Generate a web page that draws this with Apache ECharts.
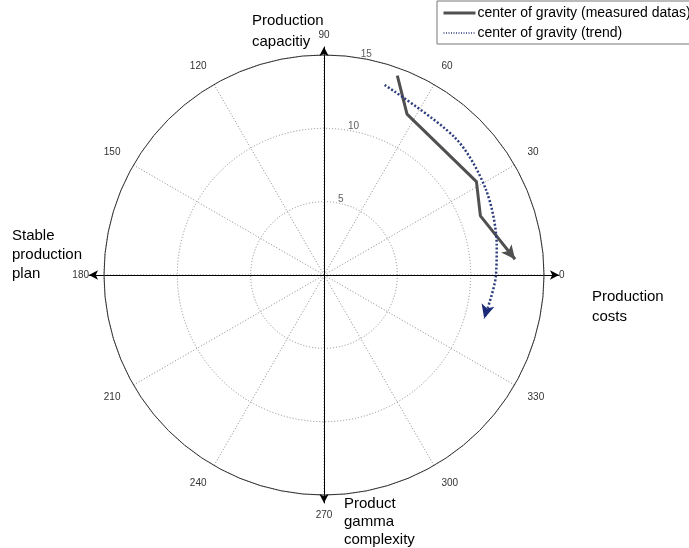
<!DOCTYPE html>
<html>
<head>
<meta charset="utf-8">
<script src="https://cdn.jsdelivr.net/npm/echarts@6/dist/echarts.min.js"></script>
<style>
html,body{margin:0;padding:0;background:#fff;}
#chart{width:689px;height:548px;}
</style>
</head>
<body>
<div id="chart"></div>
<script>
// ---- data ----
const ringTicks = [5, 10, 15];
const angleMin = 0, angleMax = 360, angleStep = 30;
const measuredR = [14.48, 12.34, 12.19, 11.40, 13.07];
const measuredTheta = [69.8, 62.7, 31.5, 20.7, 4.7];
const trendR = [13.6, 12.94, 12.48, 11.94, 11.71, 11.32];
const trendTheta = [72.3, 46.2, 27.7, 9.5, 359.3, 344.8];
const seriesNames = ['center of gravity (measured datas)', 'center of gravity (trend)'];
const axisDirections = [0, 90, 180, 270];

const FONT = '"Liberation Sans", Arial, sans-serif';
const CENTER = [324, 275];
const R = 220;

function arrowRotate(rs, ts) {
  const n = rs.length;
  const a1 = ts[n - 2] * Math.PI / 180, a2 = ts[n - 1] * Math.PI / 180;
  const x1 = rs[n - 2] * Math.cos(a1), y1 = rs[n - 2] * Math.sin(a1);
  const x2 = rs[n - 1] * Math.cos(a2), y2 = rs[n - 1] * Math.sin(a2);
  const phi = Math.atan2(y2 - y1, x2 - x1) * 180 / Math.PI;
  return phi - 90;
}
function buildData(rs, ts, color, size) {
  const rot = arrowRotate(rs, ts);
  return rs.map((r, i) => {
    if (i === rs.length - 1) {
      return { value: [r, ts[i]], symbol: 'arrow', symbolSize: size, symbolRotate: rot,
               itemStyle: { color: color } };
    }
    return [r, ts[i]];
  });
}

const polar = [{ center: CENTER, radius: R }];
const angleAxis = [{
  polarIndex: 0, type: 'value', min: angleMin, max: angleMax, interval: angleStep,
  startAngle: 0, clockwise: false,
  axisLine: { show: true, lineStyle: { color: '#333', width: 1 } },
  axisTick: { show: false },
  axisLabel: { show: true, margin: 15, color: '#333', fontSize: 10, fontFamily: FONT,
    formatter: v => (v === angleMax ? '' : String(v)) },
  splitLine: { show: true, lineStyle: { color: '#8a8a8a', width: 1, type: [1, 2] } }
}];
const radiusAxis = [{
  polarIndex: 0, type: 'value', min: 0, max: ringTicks[ringTicks.length - 1], interval: ringTicks[0],
  axisLine: { show: false }, axisTick: { show: false }, axisLabel: { show: false },
  splitLine: { show: true, lineStyle: { color: '#8a8a8a', width: 1, type: [1, 2] } }
}];
axisDirections.forEach((dir, k) => {
  const horiz = (dir % 180 === 0);
  polar.push({ center: CENTER, radius: horiz ? R + 15 : R + 8 });
  angleAxis.push({ polarIndex: k + 1, type: 'value', min: 0, max: 360, startAngle: dir,
    clockwise: false, show: false });
  radiusAxis.push({ polarIndex: k + 1, type: 'value', min: 0, max: 1, show: true,
    axisLine: { show: true, symbol: ['none', 'arrow'], symbolSize: [7, 9],
      lineStyle: { color: '#000', width: 1 } },
    axisTick: { show: false }, axisLabel: { show: false }, splitLine: { show: false } });
});

const option = {
  animation: false,
  backgroundColor: '#fff',
  polar: polar,
  angleAxis: angleAxis,
  radiusAxis: radiusAxis,
  legend: {
    data: [
      { name: seriesNames[0], lineStyle: { width: 3, color: '#505050' } },
      { name: seriesNames[1], lineStyle: { width: 1.5, color: '#2b3b7c', type: [1, 1.5] } }
    ],
    orient: 'vertical',
    left: 437, top: 1,
    itemWidth: 32, itemHeight: 12, itemGap: 6,
    padding: [5, 40, 4, 5],
    borderColor: '#777', borderWidth: 1,
    itemStyle: { opacity: 0 },
    textStyle: { fontSize: 14, color: '#000', fontFamily: FONT, padding: [0, 0, 0, -3] }
  },
  graphic: [
    { type: 'text', left: 252, top: 10, style: { text: 'Production\ncapacitiy', font: '15px ' + FONT, fill: '#000', lineHeight: 21 } },
    { type: 'text', left: 12, top: 226, style: { text: 'Stable\nproduction\nplan', font: '15px ' + FONT, fill: '#000', lineHeight: 19 } },
    { type: 'text', left: 592, top: 287, style: { text: 'Production\ncosts', font: '15px ' + FONT, fill: '#000', lineHeight: 20 } },
    { type: 'text', left: 344, top: 495, style: { text: 'Product\ngamma\ncomplexity', font: '15px ' + FONT, fill: '#000', lineHeight: 18 } }
  ],
  series: [
    {
      name: seriesNames[0], type: 'line', coordinateSystem: 'polar', polarIndex: 0,
      symbol: 'none', showSymbol: true, showAllSymbol: true,
      lineStyle: { color: '#505050', width: 3 }, itemStyle: { color: '#505050' },
      data: buildData(measuredR, measuredTheta, '#505050', [10, 14]), z: 5
    },
    {
      name: seriesNames[1], type: 'line', coordinateSystem: 'polar', polarIndex: 0,
      symbol: 'none', showSymbol: true, showAllSymbol: true, smooth: 0.3,
      lineStyle: { color: '#2b3b7c', width: 2.5, type: [2, 2] }, itemStyle: { color: '#1a2a78' },
      data: buildData(trendR, trendTheta, '#1a2a78', [10, 14]), z: 6
    },
    {
      name: 'ringLabels', type: 'scatter', coordinateSystem: 'polar', polarIndex: 0,
      silent: true, symbolSize: 0,
      data: ringTicks.map(v => [v, 80]),
      label: { show: true, position: 'inside', offset: [4, -4], color: '#333', fontSize: 10, fontFamily: FONT,
        formatter: p => String(p.value[0]) }
    }
  ]
};
const chart = echarts.init(document.getElementById('chart'), null, { renderer: 'canvas' });
chart.setOption(option);
</script>
</body>
</html>
